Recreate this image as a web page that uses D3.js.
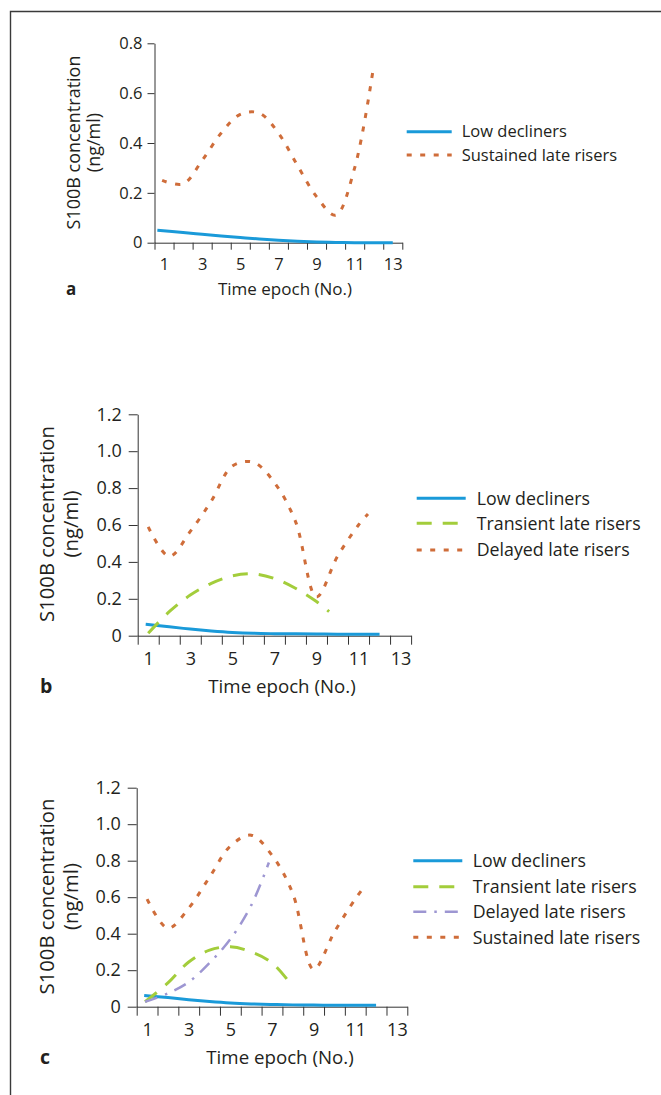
<!doctype html>
<html lang="en">
<head>
  <meta charset="utf-8">
  <title>S100B concentration by time epoch</title>
  <style>
    body { margin: 0; background: #fff; }
    svg { display: block; font-family: "Open Sans", sans-serif; }
    .axis path, .axis line { stroke: #333; stroke-width: 1; fill: none; }
    .axis text { fill: #231f20; }
    .label { fill: #231f20; }
    .letter { fill: #231f20; font-weight: bold; }
    .series { fill: none; }
  </style>
</head>
<body>
<script src="https://d3js.org/d3.v7.min.js"></script>
<script>
(function() {

// ---- data ----
var xLabels = [1, 3, 5, 7, 9, 11, 13];
var yTicksA = [0, 0.2, 0.4, 0.6, 0.8];
var yTicksBC = [0, 0.2, 0.4, 0.6, 0.8, 1.0, 1.2];

// panel a
var aLowEpochs = [0.65, 2, 3, 4, 5, 6, 7, 8, 9, 10, 11, 12, 13];
var aLow = [0.05, 0.041, 0.034, 0.027, 0.021, 0.015, 0.010, 0.006, 0.003, 0.001, 0, 0, 0];
var aSustainedEpochs = [0.9, 2, 3, 4, 5, 6, 7, 8, 9, 10, 11, 12];
var aSustained = [0.25, 0.236, 0.33, 0.44, 0.515, 0.52, 0.44, 0.31, 0.185, 0.11, 0.30, 0.71];

// panel b
var bLowEpochs = [0.88, 2, 3, 4, 5, 6, 7, 8, 9, 10, 11, 12];
var bLow = [0.062, 0.048, 0.036, 0.026, 0.018, 0.013, 0.011, 0.010, 0.009, 0.008, 0.008, 0.008];
var bTransientEpochs = [1, 2, 3, 4, 5, 6, 7, 8, 9, 9.6];
var bTransient = [0.013, 0.13, 0.22, 0.284, 0.324, 0.335, 0.31, 0.257, 0.185, 0.13];
var bDelayedEpochs = [1, 2, 3, 4, 5, 6, 7, 8, 9, 10, 11, 11.45];
var bDelayed = [0.59, 0.43, 0.565, 0.73, 0.92, 0.94, 0.83, 0.62, 0.21, 0.43, 0.60, 0.66];

// panel c
var cLowEpochs = [0.86, 2, 3, 4, 5, 6, 7, 8, 9, 10, 11, 12];
var cLow = [0.062, 0.050, 0.038, 0.028, 0.020, 0.015, 0.012, 0.010, 0.009, 0.008, 0.008, 0.008];
var cTransientEpochs = [0.9, 2, 3, 4, 5, 6, 7, 8];
var cTransient = [0.027, 0.13, 0.245, 0.31, 0.328, 0.30, 0.24, 0.11];
var cDelayedEpochs = [0.9, 2, 3, 4, 5, 6, 6.85];
var cDelayed = [0.027, 0.073, 0.135, 0.24, 0.37, 0.555, 0.79];
var cSustainedEpochs = [1, 2, 3, 4, 5, 6, 7, 8, 9, 10, 11, 11.45];
var cSustained = [0.59, 0.43, 0.54, 0.71, 0.88, 0.94, 0.83, 0.62, 0.205, 0.41, 0.59, 0.66];

// ---- line styles ----
var styles = {
  low:       { color: '#1a9ad9', width: 3,   dash: null },
  transient: { color: '#a3cd3b', width: 3,   dash: '15,11' },
  delayed:   { color: '#9d96d2', width: 2.5, dash: '13,8,2.5,8' },
  dotted:    { color: '#cf6d3a', width: 3,   dash: '5,8.5' }
};

function zip(xs, ys) {
  return xs.map(function(e, i) { return { e: e, v: ys[i] }; });
}

var panels = [
  {
    letter: 'a', left: 154.5, right: 402.3, top: 43.3, bottom: 242.7, yMax: 0.8,
    yTicks: yTicksA, tick: 7, pad: 5,
    fonts: { tick: 16.5, title: 17, yTitle: 18, legend: 16.5, letter: 17 },
    xLabelY: 270, titleY: 295, titleX: 285, letterX: 66,
    yTitleX: [73.3, 94], yTitleMid: 142.5,
    legend: { x1: 406.7, x2: 451.7, tx: 461.7, ys: [131.7, 155] },
    series: [
      { name: 'Low decliners', style: 'low', pts: zip(aLowEpochs, aLow) },
      { name: 'Sustained late risers', style: 'dotted', pts: zip(aSustainedEpochs, aSustained) }
    ]
  },
  {
    letter: 'b', left: 137.7, right: 411.1, top: 414.3, bottom: 635.7, yMax: 1.2,
    yTicks: yTicksBC, tick: 9, pad: 7,
    fonts: { tick: 18, title: 18.7, yTitle: 20.3, legend: 17.8, letter: 19.5 },
    xLabelY: 665, titleY: 692.7, titleX: 282, letterX: 40,
    yTitleX: [46.7, 71], yTitleMid: 524,
    legend: { x1: 416.7, x2: 465.7, tx: 476.7, ys: [498.3, 523.3, 550] },
    series: [
      { name: 'Low decliners', style: 'low', pts: zip(bLowEpochs, bLow) },
      { name: 'Transient late risers', style: 'transient', pts: zip(bTransientEpochs, bTransient) },
      { name: 'Delayed late risers', style: 'dotted', pts: zip(bDelayedEpochs, bDelayed) }
    ]
  },
  {
    letter: 'c', left: 136.7, right: 407.3, top: 787.7, bottom: 1006.7, yMax: 1.2,
    yTicks: yTicksBC, tick: 9, pad: 7,
    fonts: { tick: 18, title: 18.7, yTitle: 20.3, legend: 17.8, letter: 19.5 },
    xLabelY: 1036, titleY: 1064, titleX: 280, letterX: 40,
    yTitleX: [46.7, 71], yTitleMid: 896.5,
    legend: { x1: 413.3, x2: 462.3, tx: 472.7, ys: [860.7, 886.7, 911.7, 937.3] },
    series: [
      { name: 'Low decliners', style: 'low', pts: zip(cLowEpochs, cLow) },
      { name: 'Transient late risers', style: 'transient', pts: zip(cTransientEpochs, cTransient) },
      { name: 'Delayed late risers', style: 'delayed', pts: zip(cDelayedEpochs, cDelayed) },
      { name: 'Sustained late risers', style: 'dotted', pts: zip(cSustainedEpochs, cSustained) }
    ]
  }
];

var svg = d3.select('body').append('svg')
    .attr('width', 661)
    .attr('height', 1095);

// frame on the top and left
svg.append('path')
    .attr('d', 'M10.5,1095V11.5H661')
    .attr('fill', 'none')
    .attr('stroke', '#3a3a3a')
    .attr('stroke-width', 1.4);

var yFormat = function(d) { return d === 0 ? '0' : d3.format('.1f')(d); };

function drawPanel(p) {
  var g = svg.append('g');
  var f = p.fonts;
  var x = d3.scaleLinear().domain([0.5, 13.5]).range([p.left, p.right]);
  var y = d3.scaleLinear().domain([0, p.yMax]).range([p.bottom, p.top]);

  // y axis
  var ya = g.append('g').attr('class', 'axis')
      .attr('transform', 'translate(' + p.left + ',0)')
      .call(d3.axisLeft(y).tickValues(p.yTicks).tickFormat(yFormat)
        .tickSize(p.tick).tickSizeOuter(0).tickPadding(p.pad));
  ya.attr('font-size', null).attr('font-family', null);
  ya.selectAll('text').style('font-size', f.tick + 'px');

  // x axis: ticks on epoch boundaries
  var xa = g.append('g').attr('class', 'axis')
      .attr('transform', 'translate(0,' + p.bottom + ')')
      .call(d3.axisBottom(x).tickValues(d3.range(0.5, 14, 1)).tickFormat('')
        .tickSize(p.tick).tickSizeOuter(0));
  xa.attr('font-size', null).attr('font-family', null);

  // x labels on odd epochs
  var xl = g.append('g').attr('class', 'axis')
      .attr('transform', 'translate(0,' + p.bottom + ')')
      .call(d3.axisBottom(x).tickValues(xLabels).tickSize(0)
        .tickPadding(p.xLabelY - p.bottom));
  xl.attr('font-size', null).attr('font-family', null);
  xl.select('.domain').remove();
  xl.selectAll('text').attr('dy', null).style('font-size', f.tick + 'px');

  // titles
  g.append('text').attr('class', 'label')
      .attr('x', p.titleX).attr('y', p.titleY)
      .attr('text-anchor', 'middle')
      .style('font-size', f.title + 'px')
      .text('Time epoch (No.)');

  g.append('text').attr('class', 'letter')
      .attr('x', p.letterX).attr('y', p.titleY)
      .style('font-size', f.letter + 'px')
      .text(p.letter);

  ['S100B concentration', '(ng/ml)'].forEach(function(t, i) {
    g.append('text').attr('class', 'label')
        .attr('transform', 'translate(' + p.yTitleX[i] + ',' + p.yTitleMid + ') rotate(-90)')
        .attr('text-anchor', 'middle')
        .attr('dy', '0.35em')
        .style('font-size', f.yTitle + 'px')
        .text(t);
  });

  // series
  var line = d3.line()
      .x(function(d) { return x(d.e); })
      .y(function(d) { return y(d.v); })
      .curve(d3.curveCatmullRom.alpha(0.5));

  g.selectAll('path.series')
    .data(p.series)
    .enter().append('path')
      .attr('class', 'series')
      .attr('d', function(d) { return line(d.pts); })
      .attr('stroke', function(d) { return styles[d.style].color; })
      .attr('stroke-width', function(d) { return styles[d.style].width; })
      .attr('stroke-dasharray', function(d) { return styles[d.style].dash; });

  // legend
  var lg = g.selectAll('g.legend')
    .data(p.series)
    .enter().append('g')
      .attr('class', 'legend')
      .attr('transform', function(d, i) { return 'translate(0,' + p.legend.ys[i] + ')'; });

  lg.append('line')
      .attr('x1', p.legend.x1).attr('x2', p.legend.x2)
      .attr('stroke', function(d) { return styles[d.style].color; })
      .attr('stroke-width', function(d) { return styles[d.style].width; })
      .attr('stroke-dasharray', function(d) { return styles[d.style].dash; });

  lg.append('text').attr('class', 'label')
      .attr('x', p.legend.tx)
      .attr('dy', '0.35em')
      .style('font-size', f.legend + 'px')
      .text(function(d) { return d.name; });
}

panels.forEach(drawPanel);

})();
</script>
</body>
</html>
